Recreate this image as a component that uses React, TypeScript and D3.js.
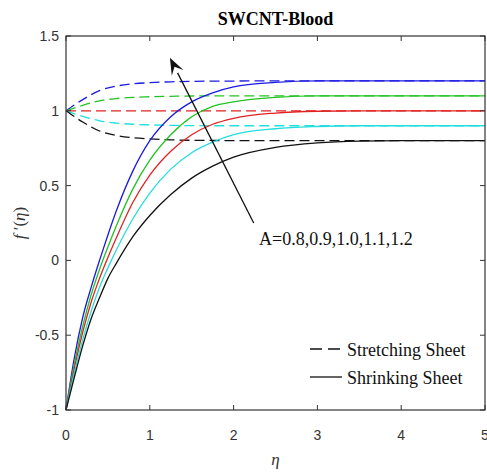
import React from "react";
import * as d3 from "d3";

const titleText = "SWCNT-Blood";
const xTicks = [0, 1, 2, 3, 4, 5];
const yTicks = [-1, -0.5, 0, 0.5, 1, 1.5];
const colors = ["#1a1ae0", "#22c322", "#e02222", "#22dede", "#111111"]; // A = 1.2,1.1,1.0,0.9,0.8

// Shrinking sheet (solid)
const etaShrink = [0, 0.1, 0.2, 0.3, 0.4, 0.5, 0.6, 0.8, 1.0, 1.25, 1.5, 1.75, 2.0, 2.5, 3.0, 3.5, 4, 5];
const shrinkA12 = [-1, -0.65, -0.38, -0.18, 0, 0.17, 0.33, 0.6, 0.8, 0.96, 1.06, 1.12, 1.16, 1.19, 1.2, 1.2, 1.2, 1.2];
const shrinkA11 = [-1, -0.69, -0.44, -0.23, -0.06, 0.09, 0.23, 0.48, 0.67, 0.84, 0.96, 1.03, 1.06, 1.09, 1.1, 1.1, 1.1, 1.1];
const shrinkA10 = [-1, -0.72, -0.48, -0.28, -0.12, 0.02, 0.15, 0.39, 0.57, 0.73, 0.84, 0.91, 0.95, 0.985, 0.997, 1, 1, 1];
const shrinkA09 = [-1, -0.75, -0.53, -0.34, -0.18, -0.05, 0.07, 0.28, 0.45, 0.61, 0.72, 0.79, 0.84, 0.88, 0.895, 0.9, 0.9, 0.9];
const shrinkA08 = [-1, -0.78, -0.57, -0.39, -0.25, -0.12, -0.02, 0.16, 0.3, 0.44, 0.55, 0.63, 0.69, 0.755, 0.785, 0.797, 0.8, 0.8];

// Stretching sheet (dashed)
const etaStretch = [0, 0.2, 0.4, 0.6, 0.8, 1.0, 1.25, 1.5, 2, 2.5, 3, 4, 5];
const stretchA12 = [1, 1.075, 1.135, 1.165, 1.18, 1.188, 1.194, 1.197, 1.199, 1.2, 1.2, 1.2, 1.2];
const stretchA11 = [1, 1.037, 1.067, 1.082, 1.09, 1.094, 1.097, 1.099, 1.1, 1.1, 1.1, 1.1, 1.1];
const stretchA10 = [1, 1, 1, 1, 1, 1, 1, 1, 1, 1, 1, 1, 1];
const stretchA09 = [1, 0.963, 0.933, 0.918, 0.91, 0.906, 0.903, 0.901, 0.9, 0.9, 0.9, 0.9, 0.9];
const stretchA08 = [1, 0.925, 0.865, 0.835, 0.82, 0.812, 0.806, 0.803, 0.801, 0.8, 0.8, 0.8, 0.8];

const shrinkSeries = [shrinkA12, shrinkA11, shrinkA10, shrinkA09, shrinkA08];
const stretchSeries = [stretchA12, stretchA11, stretchA10, stretchA09, stretchA08];

const annotation = "A=0.8,0.9,1.0,1.1,1.2";
const arrowFrom = [2.24, 0.25];
const arrowTo = [1.24, 1.355];
const legendItems = ["Stretching Sheet", "Shrinking Sheet"];

export default function App() {
  const W = 487, H = 473;
  const left = 66, right = 485, top = 36, bottom = 410;
  const x = d3.scaleLinear().domain([0, 5]).range([left, right]);
  const y = d3.scaleLinear().domain([-1, 1.5]).range([bottom, top]);
  const line = d3.line<[number, number]>().x(d => x(d[0])).y(d => y(d[1])).curve(d3.curveMonotoneX);

  const axisColor = "#333";
  const tickLen = 5;
  const serif = "'Liberation Serif', 'Times New Roman', serif";
  const sans = "'Liberation Sans', Arial, sans-serif";

  // arrow
  const ax0 = x(arrowFrom[0]), ay0 = y(arrowFrom[1]), ax1 = x(arrowTo[0]), ay1 = y(arrowTo[1]);
  const ang = Math.atan2(ay1 - ay0, ax1 - ax0);
  const hl = 17, hw = 6.5;
  const bx = ax1 - hl * Math.cos(ang), by = ay1 - hl * Math.sin(ang);
  const nx = -Math.sin(ang), ny = Math.cos(ang);
  const ix = ax1 - hl * 0.6 * Math.cos(ang), iy = ay1 - hl * 0.6 * Math.sin(ang);
  const head = `M${ax1},${ay1} L${bx + nx * hw},${by + ny * hw} L${ix},${iy} L${bx - nx * hw},${by - ny * hw} Z`;

  return (
    <svg width={W} height={H} style={{ position: "absolute", left: 0, top: 0, background: "#fff" }}>
      <rect x={0} y={0} width={W} height={H} fill="#fff" />
      <text x={(left + right) / 2} y={25} textAnchor="middle" fontFamily={serif} fontWeight="bold" fontSize={18}>{titleText}</text>

      {/* curves */}
      <g fill="none" strokeWidth={1.3}>
        {stretchSeries.map((s, i) => (
          <path key={"d" + i} d={line(etaStretch.map((e, j) => [e, s[j]]) as [number, number][]) || ""}
            stroke={colors[i]} strokeDasharray="10,5" />
        ))}
        {shrinkSeries.map((s, i) => (
          <path key={"s" + i} d={line(etaShrink.map((e, j) => [e, s[j]]) as [number, number][]) || ""}
            stroke={colors[i]} />
        ))}
      </g>

      {/* frame */}
      <rect x={left} y={top} width={right - left} height={bottom - top} fill="none" stroke={axisColor} strokeWidth={1.2} />
      {xTicks.map(t => (
        <g key={"xt" + t}>
          <line x1={x(t)} x2={x(t)} y1={bottom} y2={bottom - tickLen} stroke={axisColor} />
          <line x1={x(t)} x2={x(t)} y1={top} y2={top + tickLen} stroke={axisColor} />
          <text x={x(t)} y={440} textAnchor="middle" fontFamily={sans} fontSize={14} fill="#333">{t}</text>
        </g>
      ))}
      {yTicks.map(t => (
        <g key={"yt" + t}>
          <line x1={left} x2={left + tickLen} y1={y(t)} y2={y(t)} stroke={axisColor} />
          <line x1={right} x2={right - tickLen} y1={y(t)} y2={y(t)} stroke={axisColor} />
          <text x={59} y={y(t) + 5} textAnchor="end" fontFamily={sans} fontSize={14} fill="#333">{t}</text>
        </g>
      ))}

      {/* axis labels */}
      <text x={(left + right) / 2} y={465} textAnchor="middle" fontFamily={serif} fontStyle="italic" fontSize={17} fill="#333">η</text>
      <text transform={`translate(25,${(top + bottom) / 2}) rotate(-90)`} textAnchor="middle" fontFamily={serif} fontSize={17} fill="#333">
        <tspan fontStyle="italic">f</tspan>
        <tspan> ′(</tspan>
        <tspan fontStyle="italic">η</tspan>
        <tspan>)</tspan>
      </text>

      {/* annotation arrow */}
      <line x1={ax0} y1={ay0} x2={bx} y2={by} stroke="#111" strokeWidth={1.3} />
      <path d={head} fill="#111" />
      <text x={259} y={245} fontFamily={serif} fontSize={18} fill="#111">{annotation}</text>

      {/* legend */}
      <line x1={310} x2={340} y1={349} y2={349} stroke="#111" strokeWidth={1.3} strokeDasharray="12,6" />
      <text x={347} y={356} fontFamily={serif} fontSize={18} fill="#111">{legendItems[0]}</text>
      <line x1={310} x2={342} y1={377} y2={377} stroke="#111" strokeWidth={1.3} />
      <text x={347} y={384} fontFamily={serif} fontSize={18} fill="#111">{legendItems[1]}</text>
    </svg>
  );
}
